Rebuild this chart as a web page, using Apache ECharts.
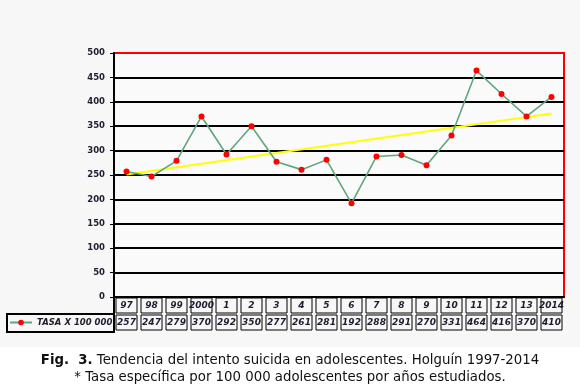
<!DOCTYPE html>
<html>
<head>
<meta charset="utf-8">
<script src="https://cdn.jsdelivr.net/npm/echarts@6/dist/echarts.min.js"></script>
<style>
html,body{margin:0;padding:0;background:#fff;}
#c{width:580px;height:391px;}
</style>
</head>
<body>
<div id="c"></div>
<script>
// ---- data ----
const categories = ['97','98','99','2000','1','2','3','4','5','6','7','8','9','10','11','12','13','2014'];
const tasa = [257,247,279,370,292,350,277,261,281,192,288,291,270,331,464,416,370,410];
const trendEnds = [251, 376];           // (linear trend at first and last year)
const yTicks = [0,50,100,150,200,250,300,350,400,450,500];
const seriesName = 'TASA X 100 000';
const captionBold = 'Fig.  3.';
const caption1 = ' Tendencia del intento suicida en adolescentes. Holguín 1997-2014';
const caption2 = '* Tasa específica por 100 000 adolescentes por años estudiados.';

const chart = echarts.init(document.getElementById('c'), null, {renderer:'canvas'});
const cellLabel = {
  interval: 0, fontFamily: 'DejaVu Sans', fontSize: 9, fontWeight: 'bold', fontStyle: 'italic',
  color: '#1e1e30', width: 21, height: 15, lineHeight: 15, align: 'center', verticalAlign: 'top',
  borderColor: '#000', borderWidth: 1, margin: 1
};
const splitColors = yTicks.map((v,i)=> i === yTicks.length-1 ? '#ff0000' : '#000');

chart.setOption({
  backgroundColor: '#f7f7f7',
  animation: false,
  title: {
    left: 'center', top: 352, padding: 0,
    text: '{b|' + captionBold + '}{n|' + caption1 + '}\n{n|' + caption2 + '}',
    textStyle: {
      fontFamily: 'DejaVu Sans', fontSize: 13.3, fontWeight: 'normal', color: '#111', lineHeight: 17,
      rich: {
        b: {fontFamily:'DejaVu Sans', fontSize: 13.3, fontWeight: 'bold', color:'#111', lineHeight:17},
        n: {fontFamily:'DejaVu Sans', fontSize: 13.3, fontWeight: 'normal', color:'#111', lineHeight:17}
      }
    }
  },
  graphic: [
    {type:'rect', z:-10, silent:true, shape:{x:0,y:347,width:580,height:44}, style:{fill:'#fff'}},
    {type:'rect', z:1, silent:true, shape:{x:7,y:314,width:107,height:18}, style:{fill:'none', stroke:'#000', lineWidth:2}},
    {type:'line', z:1, silent:true, shape:{x1:114,y1:296,x2:114,y2:332}, style:{stroke:'#000', lineWidth:2}}
  ],
  legend: {
    data: [seriesName], left: 9, top: 318, itemWidth: 22, itemHeight: 7, itemGap: 0, padding: 0,
    textStyle: {fontFamily:'DejaVu Sans', fontSize: 8.5, fontWeight:'bold', fontStyle:'italic', color:'#1e1e30',
      width: 78, overflow: 'truncate', ellipsis: ''}
  },
  grid: {left: 114, right: 16, top: 53, bottom: 94, show: true, borderColor: '#ff0000', borderWidth: 2, backgroundColor: '#fafafa'},
  xAxis: [
    {type:'category', data: categories, position:'bottom',
     axisLine:{lineStyle:{color:'#000', width:2}}, axisTick:{show:false}, axisLabel: cellLabel},
    {type:'category', data: tasa.map(String), position:'bottom', offset: 17,
     axisLine:{show:false}, axisTick:{show:false}, axisLabel: cellLabel}
  ],
  yAxis: {
    type:'value', min: 0, max: 500, interval: 50,
    axisLine:{show:true, lineStyle:{color:'#000', width:2}},
    axisTick:{show:true, length:4, lineStyle:{color:'#000', width:1}},
    axisLabel:{fontFamily:'DejaVu Sans', fontSize:8.5, fontWeight:'bold', color:'#1e1e30', margin:9},
    splitLine:{show:true, lineStyle:{color: splitColors, width:2}}
  },
  series: [
    {name: seriesName, type:'line', xAxisIndex:0, data: tasa, symbol:'circle', symbolSize:6,
     lineStyle:{color:'#5fa67e', width:1.6}, itemStyle:{color:'#ff0000'}, z:3},
    {name:'trend', type:'line', xAxisIndex:0, data: [[0, trendEnds[0]], [categories.length-1, trendEnds[1]]],
     symbol:'none', lineStyle:{color:'#ffff00', width:2}, z:2}
  ]
});
</script>
</body>
</html>
